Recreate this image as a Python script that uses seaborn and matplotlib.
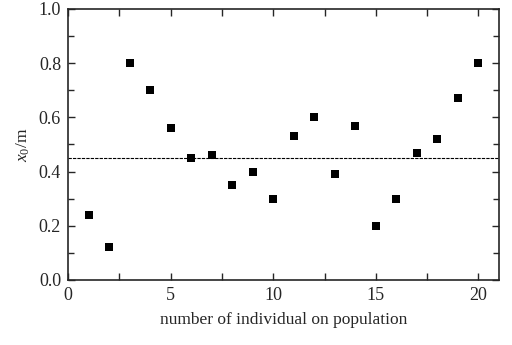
import matplotlib
matplotlib.use("Agg")
import matplotlib.pyplot as plt
import seaborn as sns
import pandas as pd
from matplotlib.ticker import MultipleLocator

individual = list(range(1, 21))
x0_values = [0.24, 0.12, 0.80, 0.70, 0.56, 0.45, 0.46, 0.35, 0.40, 0.30,
             0.53, 0.60, 0.39, 0.57, 0.20, 0.30, 0.47, 0.52, 0.67, 0.80]
mean_level = 0.45

sns.set_style("ticks")
plt.rcParams['font.family'] = ['Liberation Serif', 'DejaVu Serif']
plt.rcParams['mathtext.fontset'] = 'custom'
plt.rcParams['mathtext.rm'] = 'Liberation Serif'
plt.rcParams['mathtext.it'] = 'Liberation Serif:italic'

df = pd.DataFrame({"n": individual, "x0": x0_values})

fig = plt.figure(figsize=(5.12, 3.45), dpi=100)
ax = fig.add_axes([68/512, 1 - 280/345, (499-68)/512, (280-9)/345])

ax.axhline(mean_level, color='black', lw=0.8, ls=(0, (3, 1)))
sns.scatterplot(data=df, x="n", y="x0", marker='s', s=27, color='black',
                edgecolor='black', linewidth=0, ax=ax, zorder=3)

ax.set_xlim(0, 21)
ax.set_ylim(0, 1.0)
ax.xaxis.set_major_locator(MultipleLocator(5))
ax.xaxis.set_minor_locator(MultipleLocator(2.5))
ax.yaxis.set_major_locator(MultipleLocator(0.2))
ax.yaxis.set_minor_locator(MultipleLocator(0.1))
ax.yaxis.set_major_formatter(matplotlib.ticker.FormatStrFormatter('%.1f'))
ax.tick_params(which='both', direction='in', top=True, right=True, width=1.0)
ax.tick_params(which='major', length=5, labelsize=13, pad=5)
ax.tick_params(which='minor', length=5)
ax.tick_params(axis='y', which='minor', length=4)
for s in ax.spines.values():
    s.set_linewidth(1.2)

ax.set_xlabel("number of individual on population", fontsize=12.5, labelpad=6)
ax.set_ylabel(r"$x_{\mathit{0}}$/m", fontsize=12.5, labelpad=5)

fig.savefig("out.png", dpi=100)
